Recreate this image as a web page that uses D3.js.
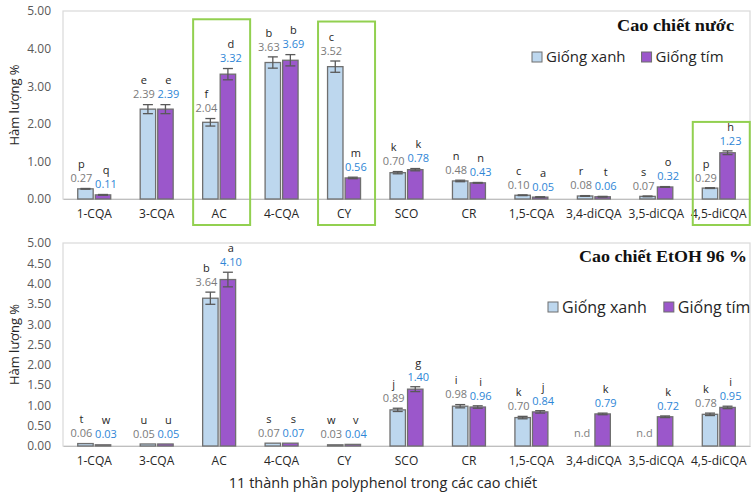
<!DOCTYPE html>
<html><head><meta charset="utf-8">
<script src="https://cdn.jsdelivr.net/npm/d3@7/dist/d3.min.js"></script>
<style>body{margin:0;background:#fff}svg{display:block}</style>
</head><body>
<svg id="c" width="756" height="495"></svg>
<script>
const categories = ["1-CQA","3-CQA","AC","4-CQA","CY","SCO","CR","1,5-CQA","3,4-diCQA","3,5-diCQA","4,5-diCQA"];
const seriesNames = ["Giống xanh","Giống tím"];
// Panel 1: Cao chiết nước
const waterXanh = [0.27,2.39,2.04,3.63,3.52,0.70,0.48,0.10,0.08,0.07,0.29];
const waterTim  = [0.11,2.39,3.32,3.69,0.56,0.78,0.43,0.05,0.06,0.32,1.23];
const waterXanhErr = [0.01,0.12,0.10,0.15,0.15,0.03,0.02,0.01,0.01,0.01,0.01];
const waterTimErr  = [0.01,0.12,0.15,0.15,0.02,0.03,0.01,0.01,0.01,0.01,0.05];
const waterXanhLetters = ["p","e","f","b","c","k","n","c","r","s","p"];
const waterTimLetters  = ["q","e","d","b","m","k","n","a","t","o","h"];
const waterTicks = [0,1,2,3,4,5];
const waterHighlight = ["AC","CY","4,5-diCQA"];
const waterHighlightTop = [4.78,4.72,2.05];
// Panel 2: Cao chiết EtOH 96 %
const etohXanh = [0.06,0.05,3.64,0.07,0.03,0.89,0.98,0.70,null,null,0.78];
const etohTim  = [0.03,0.05,4.10,0.07,0.04,1.40,0.96,0.84,0.79,0.72,0.95];
const etohXanhErr = [0.005,0.005,0.15,0.005,0.005,0.04,0.04,0.03,0,0,0.03];
const etohTimErr  = [0.005,0.005,0.18,0.005,0.005,0.06,0.03,0.03,0.02,0.02,0.03];
const etohXanhLetters = ["t","u","b","s","w","j","i","k","","","k"];
const etohTimLetters  = ["w","u","a","s","v","g","i","j","k","k","i"];
const etohTicks = [0,0.5,1,1.5,2,2.5,3,3.5,4,4.5,5];

const svg = d3.select("#c");
const colors = ["#bdd7ee","#9b57cb"];
const left = 63, right = 750;
const x = d3.scaleBand().domain(categories).range([left,right]).paddingInner(0.472).paddingOuter(0.236);
const x1 = d3.scaleBand().domain([0,1]).range([0,x.bandwidth()]).paddingInner(0.12);
const labelShift = [-4,3];

function panel(opt){
  const y = d3.scaleLinear().domain([0,5]).range([opt.y0,opt.y5]);
  const g = svg.append("g");
  g.append("rect").attr("x",left).attr("y",opt.y5).attr("width",right-left).attr("height",opt.y0-opt.y5)
    .attr("fill","none").attr("stroke","#d9d9d9").attr("stroke-width",1.2);
  const ya = g.append("g").attr("transform",`translate(${left},0)`)
    .call(d3.axisLeft(y).tickValues(opt.ticks).tickFormat(d3.format(".2f")).tickSize(0).tickPadding(12));
  ya.select(".domain").remove();
  ya.selectAll("text").attr("font-family","Open Sans, sans-serif").attr("font-size",12).attr("fill","#595959");
  const xa = g.append("g").attr("transform",`translate(0,${opt.y0})`)
    .call(d3.axisBottom(x).tickSize(0).tickPadding(10));
  xa.select(".domain").attr("stroke","#bfbfbf").attr("stroke-width",1.2);
  xa.selectAll("text").attr("font-family","Open Sans, sans-serif").attr("font-size",12).attr("fill","#262626");
  g.append("text").attr("transform",`translate(19,${(opt.y0+opt.y5)/2}) rotate(-90)`)
    .attr("text-anchor","middle").attr("font-family","Open Sans, sans-serif").attr("font-size",13).attr("fill","#262626")
    .text("Hàm lượng %");
  const series = [opt.xanh, opt.tim];
  const errs = [opt.xanhErr, opt.timErr];
  const letters = [opt.xanhL, opt.timL];
  if(opt.hl){
    opt.hl.forEach((c,i)=>{
      const cx = x(c)+x.bandwidth()/2;
      g.append("rect").attr("x",cx-26).attr("y",y(opt.hlTop[i])).attr("width",57)
        .attr("height",opt.y0+26-y(opt.hlTop[i])).attr("fill","none").attr("stroke","#92d050").attr("stroke-width",2);
    });
  }
  series.forEach((vals,s)=>{
    const bx = i=>x(categories[i])+x1(s);
    const bw = x1.bandwidth();
    vals.forEach((v,i)=>{
      const cx = bx(i)+bw/2;
      if(v===null){
        g.append("text").attr("x",cx-3).attr("y",opt.y0-9).attr("text-anchor","middle")
          .attr("font-family","Open Sans, sans-serif").attr("font-size",11).attr("fill","#7f7f7f").text("n.d");
        return;
      }
      g.append("rect").attr("x",bx(i)).attr("y",y(v)).attr("width",bw).attr("height",opt.y0-y(v))
        .attr("fill",colors[s]).attr("stroke","#6f6f6f").attr("stroke-width",1.3);
      const e = errs[s][i];
      if(e>0.006){
        const eg = g.append("g").attr("stroke","#595959").attr("stroke-width",1.3);
        eg.append("line").attr("x1",cx).attr("x2",cx).attr("y1",y(v-e)).attr("y2",y(v+e));
        eg.append("line").attr("x1",cx-5).attr("x2",cx+5).attr("y1",y(v-e)).attr("y2",y(v-e));
        eg.append("line").attr("x1",cx-5).attr("x2",cx+5).attr("y1",y(v+e)).attr("y2",y(v+e));
      }
      const ly = y(v+e)-10;
      const tx = cx+labelShift[s];
      g.append("text").attr("x",tx).attr("y",ly).attr("dy","0.35em").attr("text-anchor","middle")
        .attr("font-family","Open Sans, sans-serif").attr("font-size",11)
        .attr("fill",s===0?"#7a7a7a":"#2e86d6").text(d3.format(".2f")(v));
      if(letters[s][i]){
        g.append("text").attr("x",tx).attr("y",ly-14).attr("dy","0.35em").attr("text-anchor","middle")
          .attr("font-family","Open Sans, sans-serif").attr("font-size",11).attr("fill","#262626").text(letters[s][i]);
      }
    });
  });
  g.append("text").attr("x",opt.titleX).attr("y",opt.titleY).attr("text-anchor","end")
    .attr("font-family","Liberation Serif, Times New Roman, serif").attr("font-weight","bold").attr("font-size",17)
    .attr("textLength",opt.titleLen).attr("lengthAdjust","spacingAndGlyphs")
    .attr("fill","#111").text(opt.title);
  const lg = g.append("g").attr("transform",`translate(${opt.legX},${opt.legY})`);
  let lx = 0;
  seriesNames.forEach((n,s)=>{
    lg.append("rect").attr("x",lx).attr("y",-5).attr("width",10).attr("height",10)
      .attr("fill",colors[s]).attr("stroke","#6f6f6f").attr("stroke-width",1);
    const t = lg.append("text").attr("x",lx+14).attr("y",0).attr("dy","0.35em")
      .attr("font-family","Open Sans, sans-serif").attr("font-size",opt.legSize).attr("fill","#262626").text(n);
    lx += 14 + t.node().getComputedTextLength() + opt.legGap;
  });
}

panel({y0:199,y5:11,ticks:waterTicks,xanh:waterXanh,tim:waterTim,xanhErr:waterXanhErr,timErr:waterTimErr,
  xanhL:waterXanhLetters,timL:waterTimLetters,hl:waterHighlight,hlTop:waterHighlightTop,
  title:"Cao chiết nước",titleX:734,titleY:31,titleLen:117,legX:532,legY:57,legSize:15,legGap:16});
panel({y0:446,y5:243,ticks:etohTicks,xanh:etohXanh,tim:etohTim,xanhErr:etohXanhErr,timErr:etohTimErr,
  xanhL:etohXanhLetters,timL:etohTimLetters,
  title:"Cao chiết EtOH 96 %",titleX:747,titleY:262,titleLen:168,legX:548,legY:307,legSize:16,legGap:17});

svg.append("text").attr("x",383).attr("y",488).attr("text-anchor","middle")
  .attr("font-family","Open Sans, sans-serif").attr("font-size",14.5).attr("fill","#262626")
  .text("11 thành phần polyphenol trong các cao chiết");
</script>
</body></html>
